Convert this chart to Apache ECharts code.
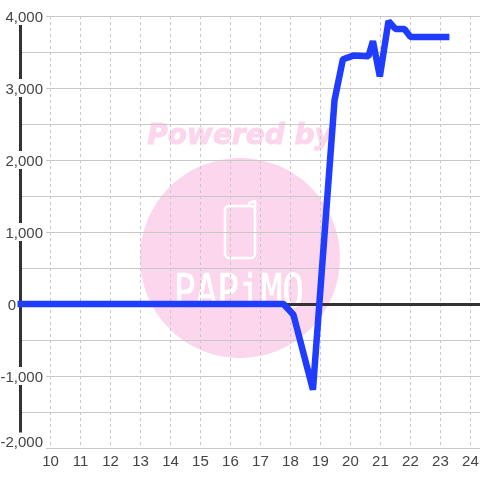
<!DOCTYPE html>
<html>
<head>
<meta charset="utf-8">
<style>
    html, body { margin: 0; padding: 0; background: #fff; }
    #chart { width: 480px; height: 480px; }
</style>
<script src="https://cdn.jsdelivr.net/npm/echarts@6/dist/echarts.min.js"></script>
</head>
<body>
<div id="chart"></div>
<script>
var xValues = [8.9, 17.77, 18.1, 18.75, 19.47, 19.75, 20.1, 20.6, 20.75, 20.98, 21.27, 21.5, 21.8, 22, 23.3];
var yValues = [0, 0, -150, -1190, 2830, 3400, 3450, 3440, 3650, 3160, 3930, 3820, 3820, 3710, 3710];
var pink = '#fcd6ec';
var labelColor = '#444';

var points = xValues.map(function (x, i) { return [x, yValues[i]]; });

var myChart = echarts.init(document.getElementById('chart'), null, { renderer: 'canvas' });
myChart.setOption({
    animation: false,
    backgroundColor: '#fff',
    grid: { left: 20.5, right: 0, top: 16, bottom: 32, outerBoundsMode: 'none' },
    graphic: [
        { type: 'circle', z: -10, shape: { cx: 240, cy: 258, r: 100 }, style: { fill: pink } },
        { type: 'text', z: -9, x: 240, y: 137, style: {
            text: 'Powered by', fill: pink, stroke: pink, lineWidth: 1, align: 'center', verticalAlign: 'middle',
            font: 'italic bold 28px "DejaVu Sans"'
        } },
        { type: 'rect', z: -9, shape: { x: 225, y: 206, width: 30, height: 52, r: 4 },
            style: { fill: 'none', stroke: '#fff', lineWidth: 2.5 } },
        { type: 'polyline', z: -9, shape: { points: [[249, 206], [249, 203], [255, 201], [255, 210]] },
            style: { fill: 'none', stroke: '#fff', lineWidth: 2.5, lineJoin: 'round' } },
        { type: 'text', z: -9, x: 239, y: 295, scaleY: 1.3, style: {
            text: 'PAPiMO', fill: '#fff', stroke: '#fff', lineWidth: 0.5, align: 'center', verticalAlign: 'middle',
            font: '36px "DejaVu Sans Mono"'
        } }
    ],
    xAxis: [
        {
            type: 'value', min: 9, max: 24.32, interval: 1, position: 'bottom',
            axisLine: { show: false, onZero: false },
            axisTick: { show: false },
            axisLabel: {
                color: labelColor, fontSize: 15, fontFamily: 'Liberation Sans', margin: 6,
                showMinLabel: false, showMaxLabel: false
            },
            splitLine: { show: true, lineStyle: { color: '#c8c8c8', width: 1, type: [3, 3] } }
        },
        {
            type: 'value', min: 9, max: 24.32, interval: 1, position: 'bottom',
            axisLine: { show: true, onZero: true, lineStyle: { color: '#333', width: 3 } },
            axisTick: { show: false },
            axisLabel: { show: false },
            splitLine: { show: false }
        }
    ],
    yAxis: {
        type: 'value', min: -2000, max: 4000, interval: 1000,
        axisLine: { show: true, onZero: false, lineStyle: { color: '#333', width: 3 } },
        axisTick: { show: false },
        axisLabel: {
            inside: true, margin: 25.5, align: 'right', color: labelColor, fontSize: 15,
            fontFamily: 'Liberation Sans',
            verticalAlignMinLabel: 'bottom',
            rich: {
                n: { color: labelColor, fontSize: 15, fontFamily: 'Liberation Sans', lineHeight: 13, backgroundColor: '#fff', padding: [3, 3, 0, 0] },
                z: { color: labelColor, fontSize: 15, fontFamily: 'Liberation Sans', lineHeight: 13, padding: [3, 30, 0, 0] }
            },
            formatter: function (v) {
                if (v === 0) return '{z|0}';
                return '{n|' + v.toLocaleString('en-US') + '}';
            }
        },
        splitLine: { show: true, lineStyle: { color: '#c8c8c8', width: 1 } },
        minorTick: { show: false, splitNumber: 2 },
        minorSplitLine: { show: true, lineStyle: { color: '#c8c8c8', width: 1 } }
    },
    series: [{
        type: 'line',
        data: points,
        showSymbol: false,
        symbol: 'none',
        clip: false,
        z: 5,
        lineStyle: { color: '#1f3cff', width: 6.5, join: 'bevel', cap: 'butt' }
    }]
});
</script>
</body>
</html>
